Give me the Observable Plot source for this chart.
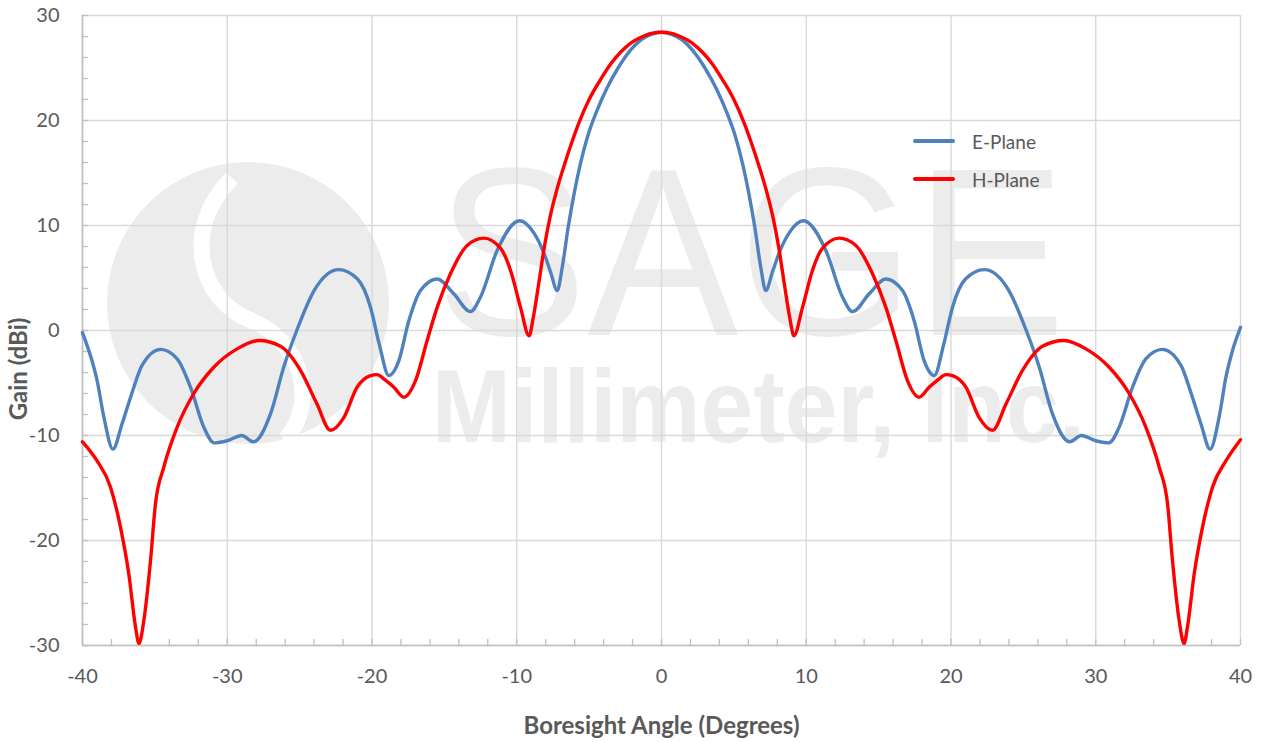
<!DOCTYPE html>
<html><head><meta charset="utf-8">
<script src="https://cdn.jsdelivr.net/npm/d3@7"></script>
<script src="https://cdn.jsdelivr.net/npm/@observablehq/plot@0.6"></script>
<style>
html,body{margin:0;padding:0;background:#fff;}
#chart{position:relative;width:1262px;height:742px;font-family:Lato,"Open Sans",sans-serif;}
#legend{position:absolute;left:913px;top:122px;font-size:19px;color:#595959;}
#legend .row{display:flex;align-items:center;height:38px;}
#legend .sw{width:42px;height:3.5px;margin-right:17px;border-radius:2px;}
</style></head><body><div id="chart"><div id="legend"></div></div>
<script>
const seriesNames = ["E-Plane", "H-Plane"];
const seriesColors = ["#4f81bd", "#ff0000"];

const eAngle = [-40, -39.45, -39.0, -38.53, -37.9, -37.27, -36.57, -35.88, -34.6, -33.46, -32.54, -31.62, -30.9, -30.0, -29.0, -28.2, -27.0, -26.1, -25.2, -24.0, -22.3, -21.0, -20.1, -19.5, -18.84, -18.15, -17.46, -16.65, -15.5, -14.35, -13.2, -12.5, -11.36, -9.8, -8.82, -8.13, -7.67, -7.2, -6.86, -6.45, -6.0, -5.6, -5.1, -4.5, -3.8, -3.0, -2.14, -1.4, -0.7, 0,
  0.7, 1.4, 2.14, 3.0, 3.8, 4.5, 5.1, 5.6, 6.0, 6.45, 6.86, 7.2, 7.67, 8.13, 8.82, 9.8, 11.36, 12.5, 13.2, 14.35, 15.5, 16.65, 17.46, 18.15, 18.84, 19.5, 20.1, 21.0, 22.3, 24.0, 25.2, 26.1, 27.0, 28.2, 29.0, 30.0, 30.9, 31.62, 32.54, 33.46, 34.6, 35.88, 36.57, 37.27, 37.9, 38.53, 39.0, 39.45, 40];
const eGain = [-0.2, -2.4, -4.7, -8.2, -11.3, -8.9, -5.9, -3.3, -1.8, -2.7, -5.4, -9.2, -10.7, -10.5, -10.0, -10.6, -7.9, -3.5, 0.0, 3.8, 5.8, 4.9, 2.2, -1.3, -4.3, -2.9, 0.9, 3.8, 4.9, 3.5, 1.8, 3.2, 7.6, 10.45, 9.3, 7.4, 5.6, 3.8, 6.0, 9.8, 13.3, 15.9, 18.5, 20.8, 23.0, 25.0, 26.7, 27.7, 28.2, 28.4,
  28.2, 27.7, 26.7, 25.0, 23.0, 20.8, 18.5, 15.9, 13.3, 9.8, 6.0, 3.8, 5.6, 7.4, 9.3, 10.45, 7.6, 3.2, 1.8, 3.5, 4.9, 3.8, 0.9, -2.9, -4.3, -1.3, 2.2, 4.9, 5.8, 3.8, 0.0, -3.5, -7.9, -10.6, -10.0, -10.5, -10.7, -9.2, -5.4, -2.7, -1.8, -3.3, -5.9, -8.9, -11.3, -8.2, -4.4, -1.9, 0.3];

const hAngle = [-40, -39.0, -38.07, -37.38, -36.8, -36.34, -36.1, -35.76, -35.3, -34.96, -34.38, -33.46, -32.31, -30.93, -29.32, -27.8, -26.32, -24.94, -23.8, -22.87, -21.95, -21.03, -20.1, -19.65, -19.1, -18.49, -17.8, -17.0, -16.19, -15.5, -14.58, -13.43, -12.28, -11.1, -10.4, -9.74, -9.15, -8.85, -8.5, -8.1, -7.7, -7.25, -6.75, -6.2, -5.7, -5.0, -4.21, -3.5, -2.83, -2.1, -1.45, -0.7, 0,
  0.7, 1.45, 2.1, 2.83, 3.5, 4.21, 5.0, 5.7, 6.2, 6.75, 7.25, 7.7, 8.1, 8.5, 8.85, 9.15, 9.74, 10.4, 11.1, 12.28, 13.43, 14.58, 15.5, 16.19, 17.0, 17.8, 18.49, 19.1, 19.65, 20.1, 21.03, 21.95, 22.87, 23.8, 24.94, 26.32, 27.8, 29.32, 30.93, 32.31, 33.46, 34.38, 34.96, 35.3, 35.76, 36.1, 36.34, 36.8, 37.38, 38.07, 39.0, 40];
const hGain = [-10.6, -12.4, -14.9, -18.7, -23.2, -28.2, -29.8, -27.6, -21.9, -16.5, -13.0, -9.2, -6.0, -3.5, -1.75, -0.95, -1.5, -3.8, -7.0, -9.5, -8.3, -5.4, -4.3, -4.2, -4.7, -5.4, -6.35, -4.8, -0.95, 2.2, 5.4, 8.1, 8.8, 7.8, 5.6, 2.2, -0.5, 1.3, 4.3, 7.9, 10.8, 13.3, 15.6, 17.9, 19.8, 22.0, 23.9, 25.4, 26.5, 27.4, 27.9, 28.3, 28.4,
  28.3, 27.9, 27.4, 26.5, 25.4, 23.9, 22.0, 19.8, 17.9, 15.6, 13.3, 10.8, 7.9, 4.3, 1.3, -0.5, 2.2, 5.6, 7.8, 8.8, 8.1, 5.4, 2.2, -0.95, -4.8, -6.35, -5.4, -4.7, -4.2, -4.3, -5.4, -8.3, -9.5, -7.0, -3.8, -1.5, -0.95, -1.75, -3.5, -6.0, -9.2, -13.0, -16.5, -21.9, -27.6, -29.8, -28.2, -23.2, -18.7, -14.9, -12.4, -10.4];

const xTicks = [-40, -30, -20, -10, 0, 10, 20, 30, 40];
const yTicks = [-30, -20, -10, 0, 10, 20, 30];
const xMinor = d3.range(-40, 41, 2);
const yMinor = d3.range(-30, 31, 2);
const xTitle = "Boresight Angle (Degrees)";
const yTitle = "Gain (dBi)";

const rows = [
  ...eAngle.map((a, i) => ({series: seriesNames[0], angle: a, gain: eGain[i]})),
  ...hAngle.map((a, i) => ({series: seriesNames[1], angle: a, gain: hGain[i]}))
];

const txt = "#595959";
const plot = Plot.plot({
  width: 1262, height: 742,
  marginLeft: 82, marginRight: 22, marginTop: 15, marginBottom: 97,
  style: {fontFamily: "Lato, 'Open Sans', sans-serif", fontSize: "20px", color: txt, background: "white"},
  x: {domain: [-40, 40]},
  y: {domain: [-30, 30]},
  color: {domain: seriesNames, range: seriesColors},
  marks: [
    Plot.gridX(xTicks, {stroke: "#d9d9d9", strokeOpacity: 1, strokeWidth: 1.4}),
    Plot.gridY(yTicks, {stroke: "#d9d9d9", strokeOpacity: 1, strokeWidth: 1.4}),
    Plot.ruleX([-40], {stroke: "#bfbfbf", strokeWidth: 1.6}),
    Plot.ruleY([-30], {stroke: "#bfbfbf", strokeWidth: 1.6}),
    Plot.axisX(xMinor, {tickSize: -6, stroke: "#bfbfbf", strokeWidth: 1.3, tickFormat: () => "", label: null}),
    Plot.axisY(yMinor, {tickSize: -6, stroke: "#bfbfbf", strokeWidth: 1.3, tickFormat: () => "", label: null}),
    Plot.axisX(xTicks, {tickSize: 0, tickPadding: 23, label: null, fill: txt, fontSize: 20, tickFormat: d => String(d)}),
    Plot.axisY(yTicks, {tickSize: 0, tickPadding: 23, label: null, fill: txt, fontSize: 20, tickFormat: d => String(d)}),
    Plot.line(rows, {x: "angle", y: "gain", stroke: "series", z: "series", strokeWidth: 3.4, curve: "monotone-x", strokeLinejoin: "round", strokeLinecap: "round"}),
    Plot.text([xTitle], {text: d => d, frameAnchor: "bottom", dy: 88, fontWeight: "bold", fontSize: 24, fill: txt})
  ]
});

const svg = d3.select(plot);
// y-axis title
svg.append("text")
  .attr("transform", "translate(21,369) rotate(-90)")
  .attr("text-anchor", "middle").attr("dominant-baseline", "middle")
  .attr("font-weight", "bold").attr("font-size", 24).attr("fill", txt)
  .text(yTitle);

// faint watermark behind everything
const wm = svg.insert("g", ":first-child").attr("pointer-events", "none").attr("text-anchor", "start");
wm.append("circle").attr("cx", 248).attr("cy", 303).attr("r", 141).attr("fill", "#ececec");
wm.append("path").attr("d", "M 232 178 C 180 230, 200 300, 250 320 C 300 340, 320 400, 285 440")
  .attr("fill", "none").attr("stroke", "#ffffff").attr("stroke-width", 16);
wm.append("text").attr("x", 436).attr("y", 335).attr("text-anchor", "start").attr("font-family", "'Liberation Sans', Arial, sans-serif")
  .attr("font-size", 240).attr("fill", "#ececec").attr("textLength", 630).attr("lengthAdjust", "spacingAndGlyphs").text("SAGE");
wm.append("text").attr("x", 432).attr("y", 442).attr("text-anchor", "start").attr("font-family", "'Liberation Sans', Arial, sans-serif")
  .attr("font-weight", "bold").attr("font-size", 104).attr("fill", "#ececec").attr("textLength", 653).attr("lengthAdjust", "spacingAndGlyphs").text("Millimeter, Inc.");

document.getElementById("chart").prepend(plot);

const legend = d3.select("#legend");
seriesNames.forEach((n, i) => {
  const r = legend.append("div").attr("class", "row");
  r.append("div").attr("class", "sw").style("background", seriesColors[i]);
  r.append("span").text(n);
});
</script>
</body></html>
